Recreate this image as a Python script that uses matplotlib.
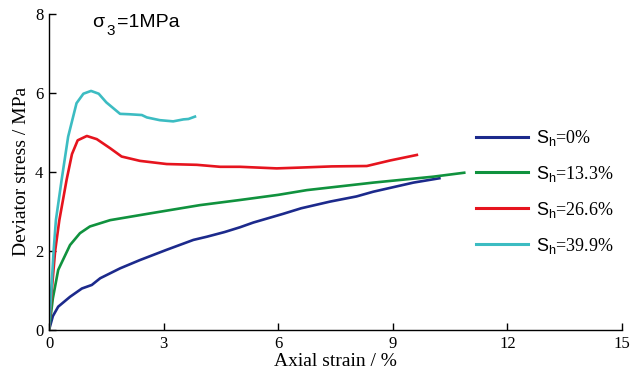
import matplotlib
matplotlib.use("Agg")
import matplotlib.pyplot as plt

plt.rcParams['font.family'] = ['Liberation Serif', 'DejaVu Serif']
plt.rcParams['mathtext.fontset'] = 'custom'
plt.rcParams['mathtext.rm'] = 'Liberation Sans'
plt.rcParams['mathtext.it'] = 'Liberation Sans'
plt.rcParams['mathtext.sf'] = 'Liberation Sans'

# Stress-strain curves, sigma_3 = 1 MPa
strain_0 = [0, 0.1, 0.24, 0.55, 0.86, 1.12, 1.34, 1.86, 2.38, 3.08, 3.78, 4.13,
            4.6, 5.0, 5.35, 6.13, 6.6, 7.36, 8.05, 8.49, 9.54, 10.22]
stress_0 = [0, 0.35, 0.59, 0.84, 1.05, 1.14, 1.31, 1.56, 1.77, 2.03, 2.28, 2.36,
            2.48, 2.60, 2.72, 2.94, 3.08, 3.25, 3.38, 3.50, 3.73, 3.84]

strain_13 = [0, 0.1, 0.24, 0.55, 0.81, 1.07, 1.6, 2.64, 3.95, 5.0, 6.0, 6.75,
             8.49, 10.06, 10.87]
stress_13 = [0, 0.8, 1.52, 2.15, 2.45, 2.62, 2.78, 2.95, 3.16, 3.29, 3.42, 3.54,
             3.73, 3.88, 3.98]

strain_26 = [0, 0.08, 0.16, 0.27, 0.46, 0.6, 0.75, 0.99, 1.25, 1.6, 1.9, 2.38,
             3.08, 3.87, 4.48, 5.0, 5.96, 6.57, 7.4, 8.32, 8.93, 9.63]
stress_26 = [0, 1.1, 2.0, 2.78, 3.8, 4.45, 4.8, 4.91, 4.83, 4.6, 4.39, 4.28,
             4.20, 4.18, 4.13, 4.13, 4.09, 4.11, 4.14, 4.15, 4.29, 4.43]

strain_39 = [0, 0.06, 0.12, 0.18, 0.33, 0.5, 0.72, 0.9, 1.1, 1.3, 1.5, 1.86,
             2.1, 2.43, 2.56, 2.9, 3.25, 3.52, 3.65, 3.82]
stress_39 = [0, 1.0, 2.0, 2.78, 3.8, 4.89, 5.74, 5.98, 6.05, 5.98, 5.76, 5.47,
             5.46, 5.44, 5.38, 5.31, 5.28, 5.33, 5.34, 5.40]

labels = ["0%", "13.3%", "26.6%", "39.9%"]
colors = ["#1c2a8c", "#10923e", "#e6141e", "#3cbcc2"]

fig = plt.figure(figsize=(6.31, 3.75), dpi=100)
ax = fig.add_axes([0.0777, 0.12, 0.908, 0.843])

curves = [(strain_0, stress_0), (strain_13, stress_13),
          (strain_26, stress_26), (strain_39, stress_39)]
for (x, y), lab, c in zip(curves, labels, colors):
    ax.plot(x, y, color=c, lw=1.9, label=r"$\mathrm{S}_\mathrm{h}$=" + lab)

ax.set_xlim(0, 15)
ax.set_ylim(0, 8)
ax.set_xticks([0, 3, 6, 9, 12, 15])
ax.set_yticks([0, 2, 4, 6, 8])
ax.tick_params(direction='in', length=5, width=1, labelsize=12, pad=4)
for s in ['top', 'right']:
    ax.spines[s].set_visible(False)
ax.spines['left'].set_linewidth(1)
ax.spines['bottom'].set_linewidth(1)

ax.set_xlabel("Axial strain / %", fontsize=14, labelpad=1)
ax.set_ylabel("Deviator stress / MPa", fontsize=14, labelpad=4)

# confining pressure note: sigma, dropped subscript, then the value
tx = dict(transform=ax.transAxes, family='Liberation Sans',
          va='baseline', ha='left')
ax.text(0.075, 0.957, "σ", fontsize=14, **tx)
ax.text(0.1005, 0.932, "3", fontsize=11, **tx)
ax.text(0.1185, 0.957, "=1MPa", fontsize=14, **tx)

leg = ax.legend(loc='upper left', bbox_to_anchor=(0.7295, 0.668), frameon=False,
                fontsize=13, handlelength=2.9, handletextpad=0.4,
                labelspacing=0.88, borderpad=0)
for h in leg.get_lines():
    h.set_linewidth(2.2)

fig.savefig("out.png", dpi=100)
